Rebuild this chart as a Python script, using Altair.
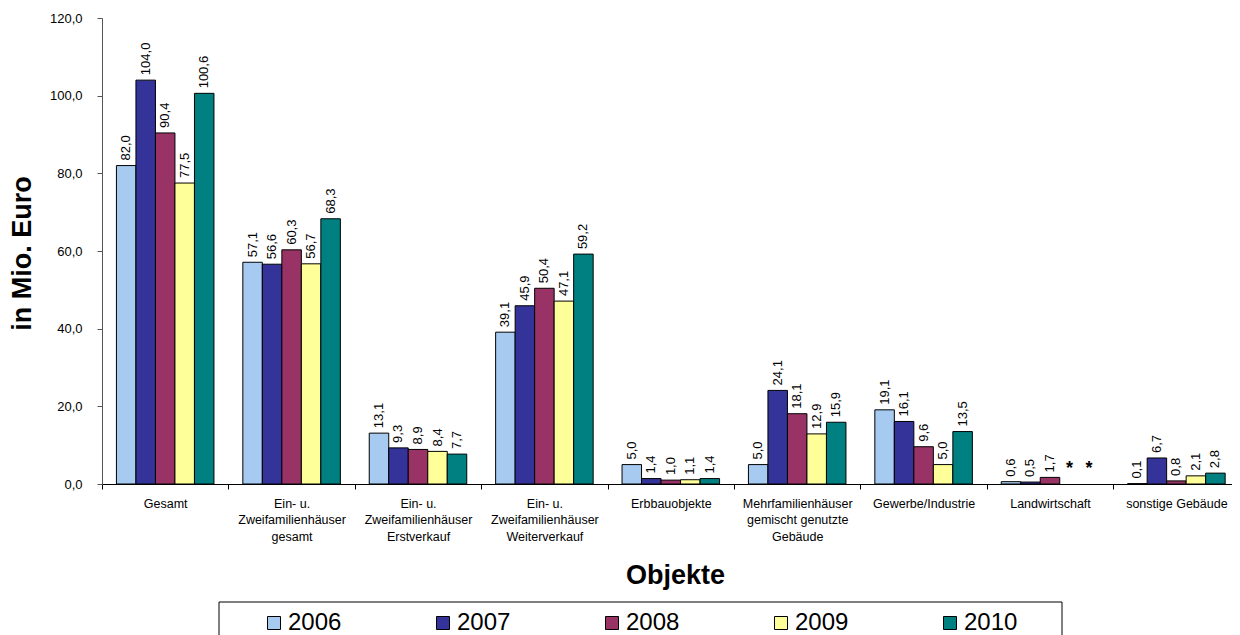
import altair as alt
import pandas as pd

categories = [
    "Gesamt",
    "Ein- u.|Zweifamilienhäuser|gesamt",
    "Ein- u.|Zweifamilienhäuser|Erstverkauf",
    "Ein- u.|Zweifamilienhäuser|Weiterverkauf",
    "Erbbauobjekte",
    "Mehrfamilienhäuser|gemischt genutzte|Gebäude",
    "Gewerbe/Industrie",
    "Landwirtschaft",
    "sonstige Gebäude",
]
years = ["2006", "2007", "2008", "2009", "2010"]
colors = ["#A6CAF0", "#333399", "#993366", "#FFFF99", "#008080"]

v2006 = [82.0, 57.1, 13.1, 39.1, 5.0, 5.0, 19.1, 0.6, 0.1]
v2007 = [104.0, 56.6, 9.3, 45.9, 1.4, 24.1, 16.1, 0.5, 6.7]
v2008 = [90.4, 60.3, 8.9, 50.4, 1.0, 18.1, 9.6, 1.7, 0.8]
v2009 = [77.5, 56.7, 8.4, 47.1, 1.1, 12.9, 5.0, None, 2.1]
v2010 = [100.6, 68.3, 7.7, 59.2, 1.4, 15.9, 13.5, None, 2.8]
y_ticks = [0, 20, 40, 60, 80, 100, 120]

series = dict(zip(years, [v2006, v2007, v2008, v2009, v2010]))
rows = []
for yr, vals in series.items():
    for cat, v in zip(categories, vals):
        rows.append({
            "cat": cat,
            "year": yr,
            "value": v,
            "label": ("%.1f" % v).replace(".", ",") if v is not None else "*",
        })
df = pd.DataFrame(rows)
bar_df = df[df["value"].notna()]
star_df = df[df["value"].isna()].copy()
star_df["value"] = 0.0
box_df = pd.DataFrame({"k": [0]})

x_enc = alt.X(
    "cat:N",
    sort=categories,
    scale=alt.Scale(domain=categories, range=[0, 1137.6], paddingInner=0, paddingOuter=0),
    axis=alt.Axis(
        title="Objekte",
        labelExpr="split(datum.label, '|')",
        labelAngle=0,
        labelAlign="center",
        labelBaseline="top",
        labelFontSize=12.5,
        labelLineHeight=16.5,
        labelPadding=8,
        labelLimit=300,
        labelOverlap=False,
        labelColor="black",
        tickBand="extent",
        tickSize=5,
        tickColor="black",
        domainColor="black",
        titleFontSize=27,
        titleFontWeight="bold",
        titleX=573,
        titleY=99,
        titleAlign="center",
        titleBaseline="alphabetic",
        titleColor="black",
    ),
)
xo_enc = alt.XOffset(
    "year:N",
    sort=years,
    scale=alt.Scale(domain=years, paddingInner=0, paddingOuter=0.74),
)
y_enc = alt.Y(
    "value:Q",
    scale=alt.Scale(domain=[0, 120], nice=False, zero=True),
    axis=alt.Axis(
        title="in Mio. Euro",
        values=y_ticks,
        labelExpr="replace(format(datum.value, '.1f'), '.', ',')",
        labelFontSize=13,
        labelPadding=15,
        labelAlign="right",
        labelColor="black",
        tickSize=5,
        tickColor="#555555",
        domainColor="#555555",
        grid=False,
        titleFontSize=27,
        titleFontWeight="bold",
        titleAngle=270,
        titleX=-80,
        titleY=235,
        titleAlign="center",
        titleBaseline="middle",
        titleColor="black",
    ),
)

bars = alt.Chart(bar_df).mark_bar(stroke="black", strokeWidth=1).encode(
    x=x_enc,
    xOffset=xo_enc,
    y=y_enc,
    color=alt.Color(
        "year:N",
        sort=years,
        scale=alt.Scale(domain=years, range=colors),
        legend=alt.Legend(
            title=None,
            orient="none",
            legendX=160,
            legendY=593,
            direction="horizontal",
            symbolType="square",
            symbolSize=169,
            symbolStrokeColor="black",
            symbolStrokeWidth=1,
            labelFontSize=24,
            labelOffset=2,
            labelColor="black",
            columnPadding=89,
            padding=0,
        ),
    ),
)

labels = alt.Chart(bar_df).mark_text(
    angle=270, align="left", baseline="middle", dx=5, fontSize=13, color="black"
).encode(x=x_enc, xOffset=xo_enc, y=y_enc, text="label:N")

stars = alt.Chart(star_df).mark_text(
    fontSize=18, fontWeight="bold", baseline="alphabetic", dy=-10, color="black"
).encode(x=x_enc, xOffset=xo_enc, y=y_enc, text="label:N")

box = alt.Chart(box_df).mark_rect(
    fillOpacity=0, stroke="black", strokeWidth=1
).encode(
    x=alt.value(117), x2=alt.value(960), y=alt.value(584), y2=alt.value(660)
)

chart = (
    alt.layer(box, bars, labels, stars)
    .properties(
        width=1130,
        height=466,
        autosize=alt.AutoSizeParams(type="none"),
        padding={"left": 94, "top": 10, "right": 0, "bottom": 151},
        title=alt.Title(
            "2006 - 2010", fontSize=22, fontWeight="bold", offset=12, dx=-43, color="black"
        ),
    )
    .configure(font="Liberation Sans", background="white")
    .configure_view(stroke=None)
)

chart.save("out.html", embed_options={"renderer": "svg", "actions": False})
